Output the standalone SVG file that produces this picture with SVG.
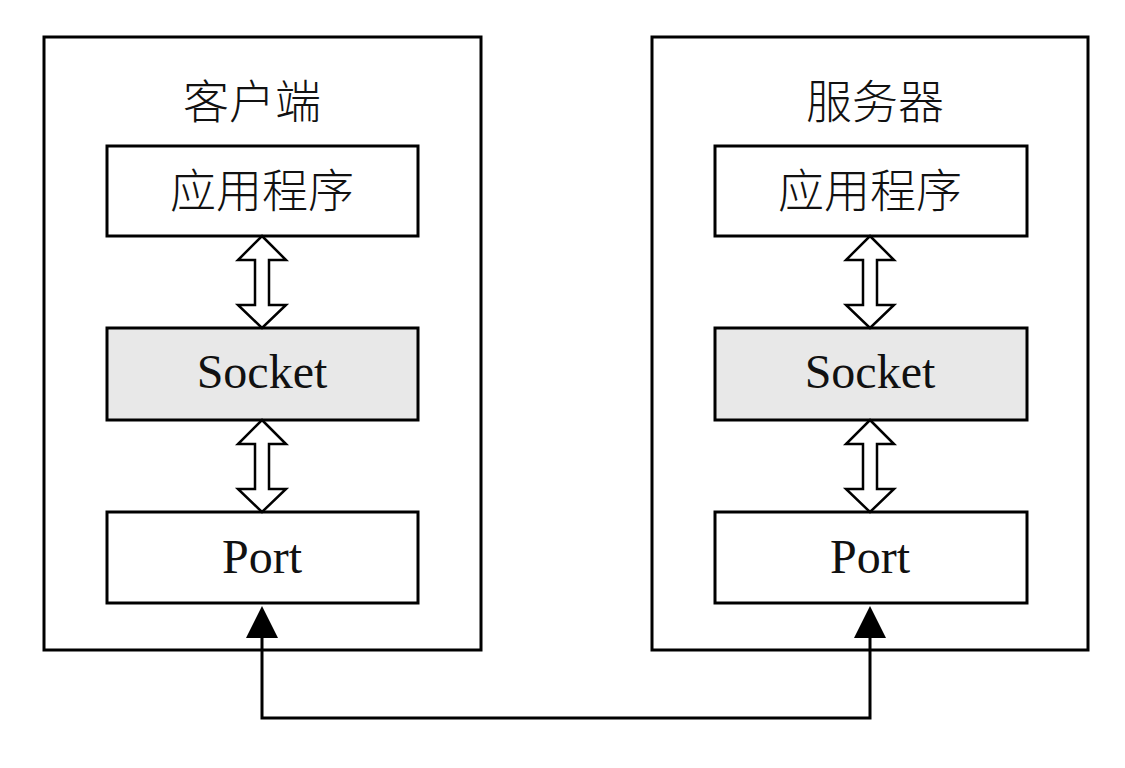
<svg xmlns="http://www.w3.org/2000/svg" width="1125" height="768" viewBox="0 0 1125 768">
<style>
.outer{fill:#fff;stroke:#000;stroke-width:3}
.box{fill:#fff;stroke:#000;stroke-width:3}
.sock{fill:#e8e8e8;stroke:#000;stroke-width:3}
.cjk{font-family:"Noto Sans CJK SC","Noto Sans CJK JP",sans-serif;font-size:46px;font-weight:300;text-anchor:middle;fill:#111}
.lat{font-family:"Liberation Serif",serif;font-size:48px;text-anchor:middle;fill:#111}
.dbl{fill:#fff;stroke:#000;stroke-width:2.5;stroke-linejoin:miter}
.conn{fill:none;stroke:#000;stroke-width:3}
.head{fill:#000}
</style>
<defs>
<path id="darrow" d="M0,0 L24,24 L7,24 L7,69 L24,69 L0,92 L-24,69 L-7,69 L-7,24 L-24,24 Z"/>
<path id="uphead" d="M0,0 L16,32 L-16,32 Z"/>
</defs>
<g id="client">
<rect class="outer" x="44" y="37" width="437" height="613"/>
<text class="cjk" x="252" y="118">客户端</text>
</g>
<g id="server">
<rect class="outer" x="652" y="37" width="436" height="613"/>
<text class="cjk" x="875" y="118">服务器</text>
</g>
<g id="client-app">
<rect class="box" x="107" y="146" width="311" height="90"/>
<text class="cjk" x="262" y="207">应用程序</text>
</g>
<g id="client-socket">
<rect class="sock" x="107" y="328" width="311" height="92"/>
<text class="lat" x="262" y="388">Socket</text>
</g>
<g id="client-port">
<rect class="box" x="107" y="512" width="311" height="91"/>
<text class="lat" x="262" y="573">Port</text>
</g>
<g id="server-app">
<rect class="box" x="715" y="146" width="312" height="90"/>
<text class="cjk" x="870" y="207">应用程序</text>
</g>
<g id="server-socket">
<rect class="sock" x="715" y="328" width="312" height="92"/>
<text class="lat" x="870" y="388">Socket</text>
</g>
<g id="server-port">
<rect class="box" x="715" y="512" width="312" height="91"/>
<text class="lat" x="870" y="573">Port</text>
</g>
<g id="connectors">
<use href="#darrow" class="dbl" x="262" y="236"/>
<use href="#darrow" class="dbl" x="262" y="420"/>
<use href="#darrow" class="dbl" x="870" y="236"/>
<use href="#darrow" class="dbl" x="870" y="420"/>
<path class="conn" d="M262,636 L262,718 L870,718 L870,636"/>
<use href="#uphead" class="head" x="262" y="606"/>
<use href="#uphead" class="head" x="870" y="606"/>
</g>
</svg>
